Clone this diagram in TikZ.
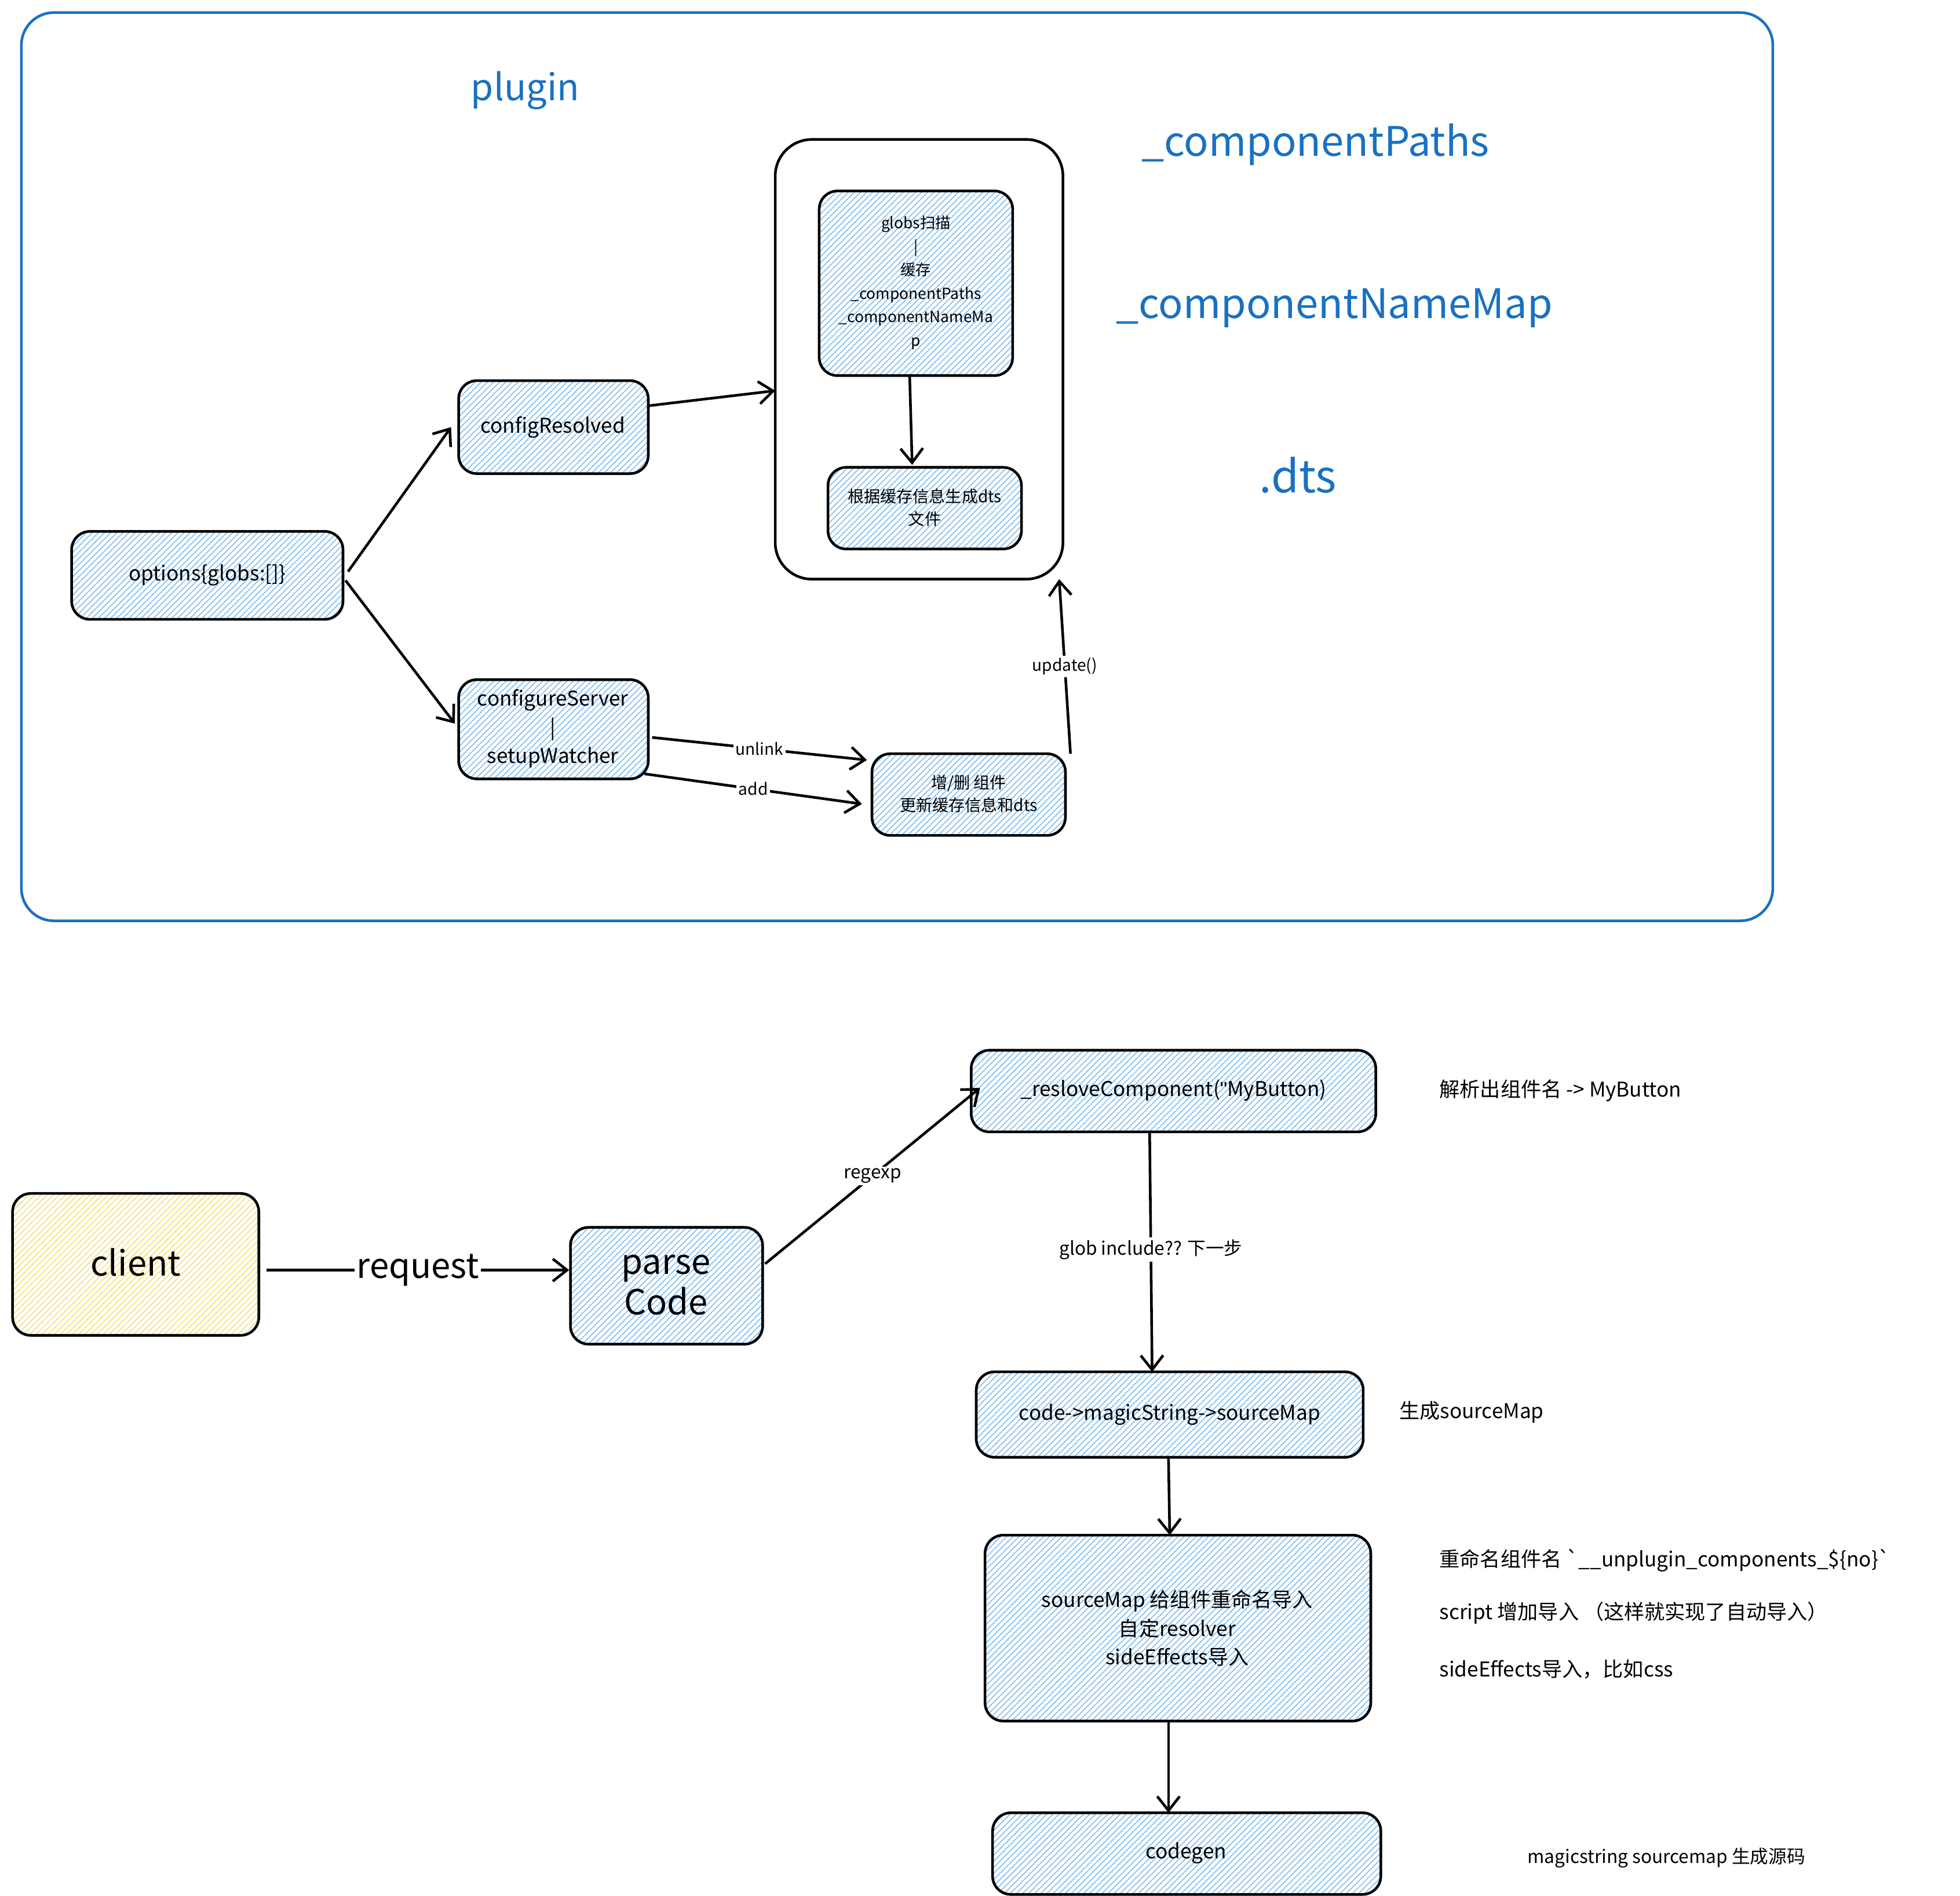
\documentclass[tikz,border=0pt]{standalone}
\usepackage{fontspec}
\setmainfont{Noto Sans CJK SC}
\newfontfamily\latn{Liberation Sans}
\usetikzlibrary{arrows.meta,patterns}
\definecolor{hb}{HTML}{74B7F0}
\definecolor{hy}{HTML}{F2DE6A}
\definecolor{tb}{HTML}{1971C2}
\begin{document}
\begin{tikzpicture}[x=0.021686cm,y=-0.021686cm,
  box/.style={draw,line width=1.3pt,rounded corners=9pt,preaction={fill=white},pattern={north east lines},pattern color=hb,align=center},
  ybox/.style={box,pattern color=hy},
  arr/.style={line width=1.3pt,-{Straight Barb[length=7pt,width=11pt]}},
  lab/.style={fill=white,inner sep=1pt,font=\footnotesize},
  bt/.style={text=tb,font=\fontsize{20}{24}\selectfont}]
\useasboundingbox (0,0) rectangle (1560,1509);
\draw[tb,line width=1.3pt,rounded corners=16pt] (17,10) rectangle (1411,733);
\node[bt,font=\fontsize{18}{22}\selectfont] (plg) at (418,72) {plugin};
\node[bt] (cp) at (1047,115) {\_componentPaths};
\node[bt] (cn) at (1062,245) {\_componentNameMap};
\node[bt,font=\fontsize{22}{26}\selectfont] (dts) at (1033,378) {.dts};
\draw[line width=1.3pt,rounded corners=18pt] (617,111) rectangle (846,461);
\coordinate (contR) at (617,311);
\coordinate (contB) at (843,461);
\draw[box] (652,152) rectangle (806,299);
\node[align=center,font=\fontsize{7.5}{11.5}\selectfont] (glob) at (729,225) {globs扫描\\|\\缓存\\\_componentPaths\\\_componentNameMa\\p};
\draw[box] (659,372) rectangle (813,437);
\node[align=center,font=\fontsize{8}{11}\selectfont] (dtsb) at (736,404) {根据缓存信息生成dts\\文件};
\draw[box] (365,303) rectangle (516,377);
\node (cr) at (440,340) {configResolved};
\draw[box] (57,423) rectangle (273,493);
\node (opt) at (165,458) {options\{globs:[]\}};
\draw[box] (365,541) rectangle (516,620);
\node[align=center,font=\fontsize{10}{14}\selectfont] (cs) at (440,580) {configureServer\\|\\setupWatcher};
\draw[box] (694,600) rectangle (848,665);
\node[align=center,font=\fontsize{8}{11}\selectfont] (zs) at (771,632) {增/删 组件\\更新缓存信息和dts};
\draw[arr] (277,455) -- (359,340);
\draw[arr] (275,462) -- (362,576);
\draw[arr] (516,323) -- (contR);
\draw[arr] (724,299) -- (726,370);
\draw[arr] (519,587) -- node[lab,pos=0.5] {unlink} (690,605);
\draw[arr] (513,616) -- node[lab,pos=0.5] {add} (686,640);
\draw[arr] (852,600) -- node[lab,pos=0.5] {update()} (contB);
% bottom
\draw[ybox] (10,950) rectangle (206,1063);
\node[font=\fontsize{17}{20}\selectfont] (cl) at (108,1005) {client};
\draw[box] (454,977) rectangle (607,1070);
\node[align=center,font=\fontsize{17}{20}\selectfont] (pc) at (530,1023) {parse\\Code};
\draw[arr] (212,1011) -- node[fill=white,inner sep=1pt,font=\fontsize{17}{20}\selectfont] {request} (453,1011);
\draw[box] (773,836) rectangle (1095,901);
\node (rc) at (934,868) {\_resloveComponent({\latn "}MyButton)};
\draw[arr] (609,1006) -- node[lab,pos=0.5,font=\small] {regexp} (780,866);
\draw[box] (777,1092) rectangle (1085,1160);
\node (cm) at (931,1126) {code->magicString->sourceMap};
\draw[arr] (915,901) -- node[lab,pos=0.49,font=\small] {glob include?? 下一步} (917,1092);
\draw[box] (784,1222) rectangle (1091,1370);
\node[align=center,font=\fontsize{10}{14}\selectfont] (sm) at (937,1296) {sourceMap 给组件重命名导入\\自定resolver\\sideEffects导入};
\draw[arr] (930,1160) -- (931,1222);
\draw[box] (790,1443) rectangle (1099,1508);
\node (cg) at (944,1475) {codegen};
\draw[arr] (930,1370) -- (930,1443);
\node[anchor=west] (t1) at (1140,868) {解析出组件名 -> MyButton};
\node[anchor=west] (t2) at (1108,1124) {生成sourceMap};
\node[anchor=west] (t3) at (1140,1242) {重命名组件名 \textasciigrave\_\_unplugin\_components\_\$\{no\}\textasciigrave};
\node[anchor=west] (t4) at (1140,1284) {script 增加导入 （这样就实现了自动导入）};
\node[anchor=west] (t5) at (1140,1329) {sideEffects导入，比如css};
\node[anchor=west,font=\small] (t6) at (1210,1479) {magicstring sourcemap 生成源码};
\end{tikzpicture}
\end{document}
